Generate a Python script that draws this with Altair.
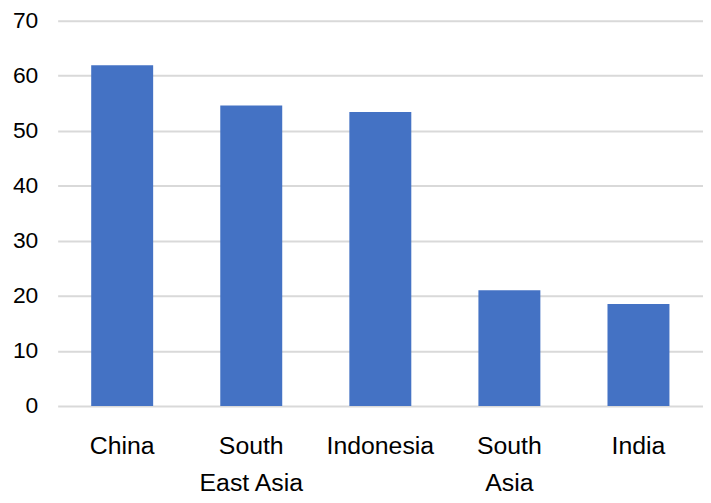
import altair as alt
import pandas as pd

categories = ["China", "South East Asia", "Indonesia", "South Asia", "India"]
values = [61.9, 54.6, 53.4, 21.0, 18.5]
label_lines = {
    "South East Asia": ["South", "East Asia"],
    "South Asia": ["South", "Asia"],
}

df = pd.DataFrame({"region": categories, "value": values})

expr = "datum.value"
for k, v in label_lines.items():
    arr = "[" + ",".join(f"'{s}'" for s in v) + "]"
    expr = f"datum.value == '{k}' ? {arr} : ({expr})"

FONT = "Liberation Sans"

chart = (
    alt.Chart(df)
    .mark_bar(color="#4472C4")
    .encode(
        x=alt.X(
            "region:N",
            sort=categories,
            title=None,
            scale=alt.Scale(paddingInner=0.52, paddingOuter=0.26),
            axis=alt.Axis(
                labelAngle=0,
                labelExpr=expr,
                labelFont=FONT,
                labelFontSize=25,
                labelColor="#000000",
                labelLineHeight=37,
                labelPadding=28,
                ticks=False,
                domain=False,
            ),
        ),
        y=alt.Y(
            "value:Q",
            title=None,
            scale=alt.Scale(domain=[0, 70], nice=False),
            axis=alt.Axis(
                values=[0, 10, 20, 30, 40, 50, 60, 70],
                labelFont=FONT,
                labelFontSize=23,
                labelColor="#000000",
                labelPadding=20,
                ticks=False,
                domain=False,
                gridColor="#d9d9d9",
                gridWidth=2,
            ),
        ),
    )
    .properties(
        width=650,
        height=388,
        autosize=alt.AutoSizeParams(type="none"),
        padding={"left": 50, "top": 11, "right": 0, "bottom": 96},
    )
    .configure_view(stroke=None)
)

chart.save("out.html", embed_options={"renderer": "svg", "actions": False})
